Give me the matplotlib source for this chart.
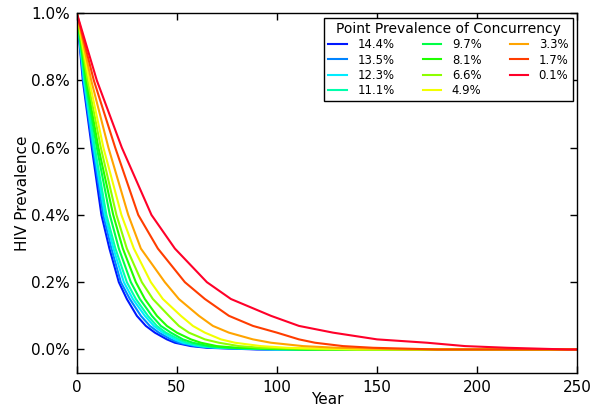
import matplotlib
matplotlib.use("Agg")
import matplotlib.pyplot as plt
import numpy as np
from matplotlib.ticker import FuncFormatter

# prevalence levels (%) and the year each curve reaches that level
levels = [1.0, 0.8, 0.6, 0.4, 0.3, 0.2, 0.15, 0.1, 0.07, 0.05, 0.03, 0.02, 0.01, 0.005, 0.0, 0.0]

concurrency = ["14.4%", "13.5%", "12.3%", "11.1%", "9.7%", "8.1%",
               "6.6%", "4.9%", "3.3%", "1.7%", "0.1%"]

years_144 = [0, 3.0, 7.5, 12.3, 16.3, 21.0, 25.0, 30.0, 34.5, 39.0, 45.0, 49.0, 57.0, 65.0, 90.0, 250]
years_135 = [0, 3.3, 8.0, 13.2, 17.3, 22.0, 26.5, 32.0, 36.5, 41.0, 47.0, 51.0, 59.0, 68.0, 95.0, 250]
years_123 = [0, 3.6, 8.5, 14.0, 18.3, 23.5, 28.0, 34.0, 38.5, 43.0, 49.0, 53.0, 61.0, 70.0, 100.0, 250]
years_111 = [0, 3.9, 9.0, 14.8, 19.3, 25.0, 29.5, 35.5, 40.0, 44.5, 51.0, 55.0, 63.0, 72.0, 105.0, 250]
years_97 = [0, 4.3, 10.0, 16.5, 21.0, 27.0, 31.5, 37.5, 42.0, 47.0, 53.0, 58.0, 66.0, 76.0, 110.0, 250]
years_81 = [0, 4.8, 10.8, 18.2, 23.0, 29.5, 34.0, 40.0, 45.0, 50.0, 57.0, 62.0, 70.0, 80.0, 115.0, 250]
years_66 = [0, 5.4, 12.0, 19.8, 25.0, 32.5, 38.0, 46.0, 51.0, 56.0, 64.0, 71.0, 81.0, 92.0, 125.0, 250]
years_49 = [0, 6.2, 13.3, 22.3, 28.5, 37.0, 43.0, 52.0, 58.0, 64.0, 72.0, 79.0, 92.0, 105.0, 140.0, 250]
years_33 = [0, 7.2, 15.8, 25.7, 32.0, 44.0, 51.0, 61.0, 68.0, 76.0, 88.0, 97.0, 113.0, 130.0, 165.0, 250]
years_17 = [0, 8.5, 19.2, 30.7, 40.5, 54.0, 64.0, 76.0, 88.0, 100.0, 111.0, 119.0, 133.0, 148.0, 180.0, 250]
years_01 = [0, 10.0, 22.5, 37.3, 49.0, 65.0, 77.0, 97.0, 111.0, 128.0, 150.0, 175.0, 194.0, 215.0, 245.0, 250]

all_years = [years_144, years_135, years_123, years_111, years_97, years_81,
             years_66, years_49, years_33, years_17, years_01]

plt.rcParams["font.family"] = "DejaVu Sans"

fig = plt.figure(figsize=(6.0, 4.09), dpi=100)
ax = fig.add_axes([0.128, 0.088, 0.834, 0.880])

# high concurrency -> blue, low -> red
colors = plt.cm.gist_rainbow(np.linspace(0.75, 0.0, len(all_years)))
for i, yrs in enumerate(all_years):
    ax.plot(yrs, levels, color=colors[i], linewidth=1.5, label=concurrency[i])

ax.set_xlim(0, 250)
ax.set_ylim(-0.07, 1.0)
ax.set_xticks([0, 50, 100, 150, 200, 250])
ax.set_yticks([0.0, 0.2, 0.4, 0.6, 0.8, 1.0])
ax.yaxis.set_major_formatter(FuncFormatter(lambda v, p: f"{v:.1f}%"))
ax.tick_params(direction="in", top=True, right=True, length=5, width=1, labelsize=11, pad=5)
for s in ax.spines.values():
    s.set_linewidth(1.0)

ax.set_xlabel("Year", fontsize=11, labelpad=-2)
ax.set_ylabel("HIV Prevalence", fontsize=11, labelpad=1)

leg = ax.legend(title="Point Prevalence of Concurrency", ncol=3, loc="upper right",
                fontsize=8.4, title_fontsize=10, fancybox=False, framealpha=1,
                edgecolor="black", handlelength=1.6, handletextpad=0.9,
                columnspacing=2.4, labelspacing=0.2, borderpad=0.35,
                borderaxespad=0.4)
leg.get_frame().set_linewidth(1.0)

plt.savefig("out.png", dpi=100)
plt.close()
